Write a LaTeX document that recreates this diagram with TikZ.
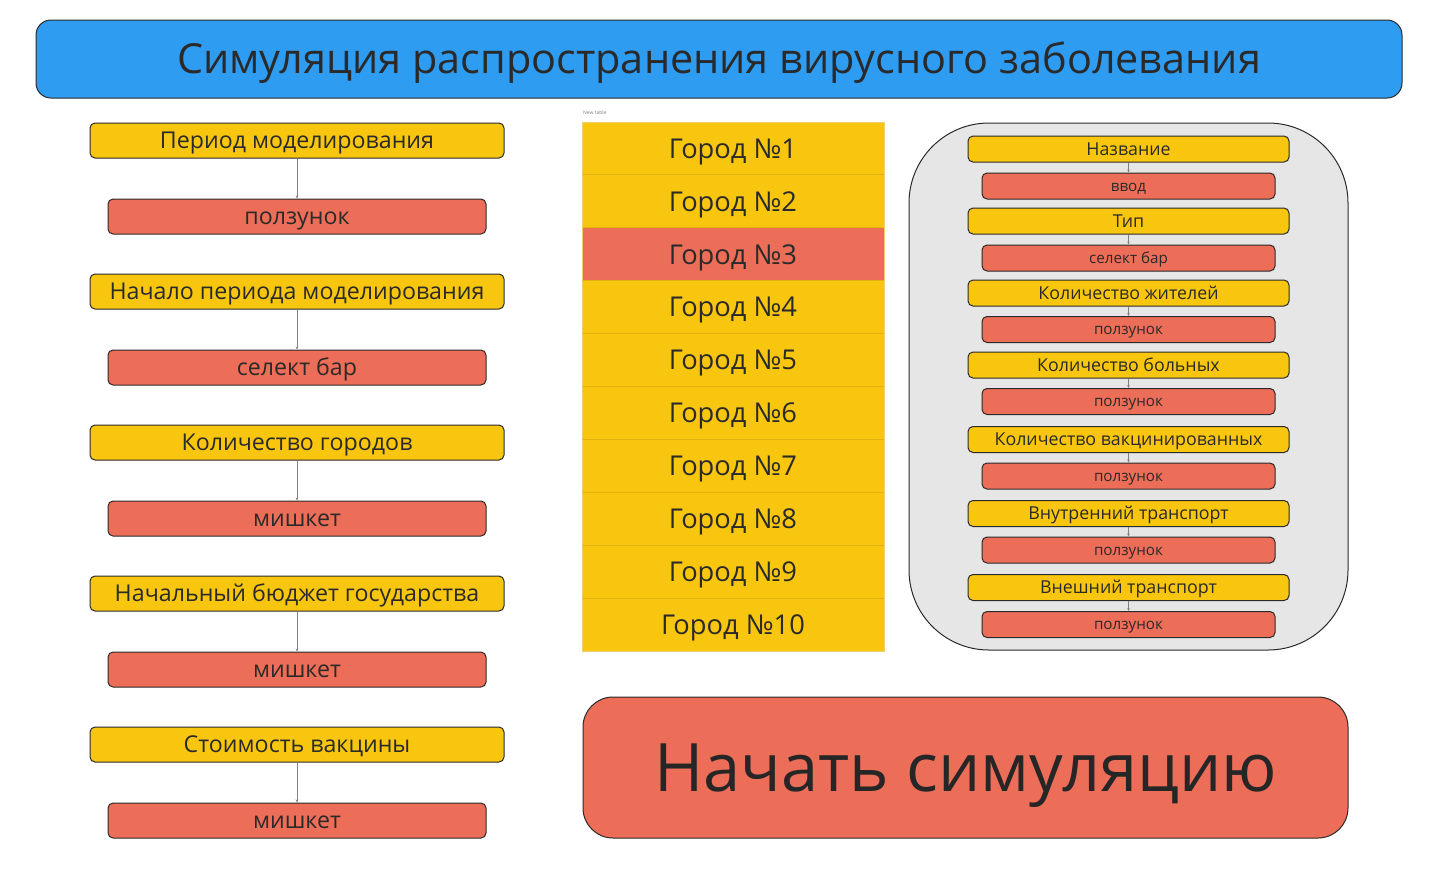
\documentclass[tikz,border=0pt]{standalone}
\usepackage{fontspec}
\setmainfont{Open Sans}
\usetikzlibrary{arrows.meta, positioning}
\definecolor{titleblue}{HTML}{2E9CF1}
\definecolor{fieldyellow}{HTML}{F9C60F}
\definecolor{controlred}{HTML}{EC6E58}
\definecolor{panelgray}{HTML}{E6E6E6}
\definecolor{edgedark}{HTML}{2A2A2A}
\definecolor{rowline}{HTML}{E2B20C}

\tikzset{
    capfont/.style={font=\fontsize{#1}{#1}\selectfont, text height=0.714*#1pt, text depth=0pt},
    fieldbox/.style={draw=edgedark, line width=1pt, rounded corners=5pt, fill=fieldyellow,
        text=edgedark, inner sep=0pt},
    controlbox/.style={draw=edgedark, line width=1pt, rounded corners=5pt, fill=controlred,
        text=edgedark, inner sep=0pt},
    link/.style={draw=gray, line width=0.5pt, -{Stealth[length=3pt,width=2.5pt]}},
    cityrow/.style={minimum width=302pt, minimum height=52.9pt, inner sep=0pt,
        text=edgedark, capfont=27.3}
}

\begin{document}
\begin{tikzpicture}[x=1pt, y=-1pt]
    \useasboundingbox (0,0) rectangle (1439,879);

    % Заголовок
    \node[draw=edgedark, line width=1pt, rounded corners=15pt, fill=titleblue, text=edgedark,
        minimum width=1366pt, minimum height=78pt, capfont=41.4]
        (title) at (719,59) {Симуляция распространения вирусного заболевания};

    % Левая колонка: параметры и элементы управления
    \foreach \i/\lab/\ctl in {0/{Период моделирования}/{ползунок},
                              1/{Начало периода моделирования}/{селект бар},
                              2/{Количество городов}/{мишкет},
                              3/{Начальный бюджет государства}/{мишкет},
                              4/{Стоимость вакцины}/{мишкет}} {
        \node[fieldbox, minimum width=414pt, minimum height=35pt, capfont=23.2]
            (param\i) at (297,140.5+151*\i) {\lab};
        \node[controlbox, minimum width=378pt, minimum height=35pt, capfont=23.2]
            (ctrl\i) at (297,216.5+151*\i) {\ctl};
        \draw[link] (param\i) -- (ctrl\i);
    }

    % Таблица городов
    \node[anchor=west, text=gray, font=\fontsize{5}{6}\selectfont, inner sep=0pt]
        (tablecap) at (583,113) {New table};
    \foreach \i in {1,...,10} {
        \ifnum\i=3
            \node[cityrow, fill=controlred] (city\i) at (733,122+52.9*\i-26.45) {Город №\i};
        \else
            \node[cityrow, fill=fieldyellow] (city\i) at (733,122+52.9*\i-26.45) {Город №\i};
        \fi
    }
    \foreach \i in {2,...,10} {
        \draw[rowline, line width=0.8pt] (city\i.north west) -- (city\i.north east);
    }
    \draw[rowline!60!white, line width=0.6pt] (city1.north west) rectangle (city10.south east);

    % Панель свойств города
    \node[draw=edgedark, line width=1pt, rounded corners=80pt, fill=panelgray,
        minimum width=439pt, minimum height=527pt, inner sep=0pt] (panel) at (1128.5,386.5) {};
    \foreach \y/\ry/\lab/\ctl/\n in {149/186/{Название}/{ввод}/1,
                                     221/258/{Тип}/{селект бар}/2,
                                     293/329.5/{Количество жителей}/{ползунок}/3,
                                     365/401.5/{Количество больных}/{ползунок}/4,
                                     439.5/476/{Количество вакцинированных}/{ползунок}/5,
                                     513.5/550/{Внутренний транспорт}/{ползунок}/6,
                                     587.5/624.5/{Внешний транспорт}/{ползунок}/7} {
        \node[fieldbox, minimum width=321pt, minimum height=26pt, capfont=17.8]
            (prop\n) at (1128.5,\y) {\lab};
        \node[controlbox, minimum width=293pt, minimum height=26pt, capfont=15.2]
            (input\n) at (1128.5,\ry) {\ctl};
        \draw[link] (prop\n) -- (input\n);
    }

    % Кнопка запуска
    \node[draw=edgedark, line width=1pt, rounded corners=30pt, fill=controlred, text=black!85,
        minimum width=765pt, minimum height=141pt, capfont=66.8]
        (start) at (965.5,767.5) {Начать симуляцию};
\end{tikzpicture}
\end{document}
